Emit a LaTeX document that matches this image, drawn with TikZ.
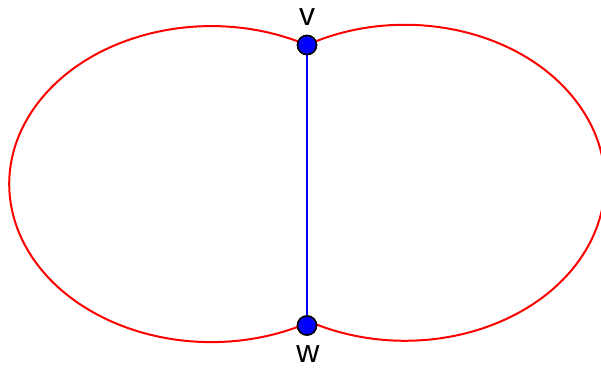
\documentclass[tikz,border=0pt]{standalone}
\usepackage{fontspec}
\setmainfont{Liberation Sans}
\begin{document}
\begin{tikzpicture}[x=1pt,y=1pt,
  loop/.style={draw=red,line width=2pt},
  edge/.style={draw=blue,line width=2pt},
  vertex/.style={circle,fill=blue,draw=black,line width=1.5pt,minimum size=19pt,inner sep=0pt},
  lbl/.style={inner sep=0pt,font=\fontsize{32}{32}\selectfont}]
\useasboundingbox (0,0) rectangle (601,-369);
\node[vertex] (v) at (307,-45) {};
\node[vertex] (w) at (307,-325.5) {};
\path[loop] (v.center) arc[start angle=61.7, end angle=298.3, x radius=202pt, y radius=158pt];
\path[loop] (v.center) arc[start angle=119.3, end angle=-119.3, x radius=200pt, y radius=158pt];
\path[edge] (v) -- (w);
\node[vertex] at (v) {};
\node[vertex] at (w) {};
\node[lbl] (lv) at (307,-17) {v};
\node[lbl] (lw) at (308,-354) {w};
\end{tikzpicture}
\end{document}
